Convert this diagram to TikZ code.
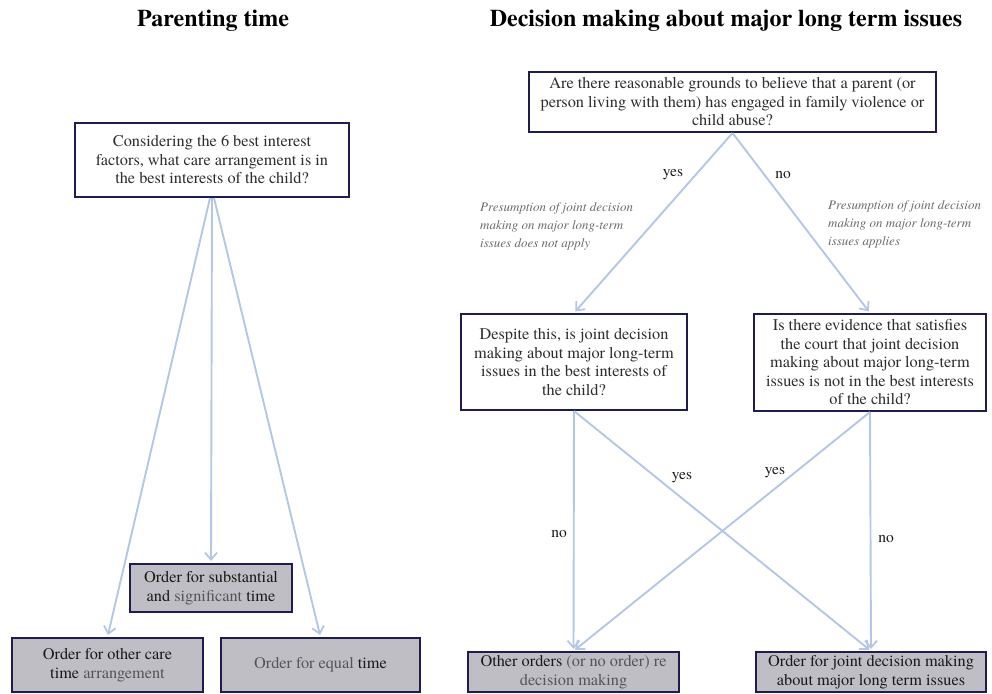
\documentclass[tikz,border=0pt]{standalone}
\usepackage{fontspec}
\setmainfont{TeX Gyre Termes}
\usetikzlibrary{arrows.meta}
\definecolor{navy}{RGB}{30,28,80}
\definecolor{boxgray}{RGB}{190,190,196}
\definecolor{flowblue}{RGB}{180,199,231}
\definecolor{txtgray}{RGB}{45,45,45}
\definecolor{lightgray}{RGB}{85,85,85}
\definecolor{notegray}{RGB}{105,105,105}
\tikzset{
  qbox/.style={draw=navy, line width=2pt, fill=white, align=center, inner sep=2pt,
    text=txtgray, font=\fontsize{16.3}{18.5}\selectfont},
  obox/.style={qbox, fill=boxgray, text=black!90},
  flow/.style={draw=flowblue, line width=1.9pt, -{Straight Barb[length=7pt,width=12pt,line width=1.8pt]}, shorten >=2pt},
  lbl/.style={font=\fontsize{15.5}{18}\selectfont, text=black!90, inner sep=0pt},
  note/.style={font=\fontsize{13}{18}\selectfont\itshape, text=notegray, align=left, inner sep=0pt},
  ttl/.style={font=\fontsize{24}{28}\selectfont\bfseries, inner sep=0pt}
}
\begin{document}
\begin{tikzpicture}[x=1pt,y=-1pt]
\useasboundingbox (0,0) rectangle (992,693);
% titles
\node[ttl] (t1) at (213,21) {Parenting time};
\node[ttl] (t2) at (726,21) {Decision making about major long term issues};
% left side
\node[qbox, minimum width=274pt, minimum height=74pt] (care) at (212,160)
  {Considering the 6 best interest\\factors, what care arrangement is in\\the best interests of the child?};
\node[obox, minimum width=162pt, minimum height=48pt] (sub) at (211,588)
  {Order for substantial\\and {\color{lightgray}significant} time};
\node[obox, minimum width=191pt, minimum height=54pt] (oth) at (107.5,665)
  {Order for other care\\time {\color{lightgray}arrangement}};
\node[obox, minimum width=199pt, minimum height=54pt] (eq) at (320.5,665)
  {{\color{lightgray}Order for equal} time};
\draw[flow] ([xshift=-2pt]care.south) -- (oth.north);
\draw[flow] (care.south) -- (sub.north);
\draw[flow] ([xshift=2pt]care.south) -- (eq.north);
% right side
\node[qbox, minimum width=407pt, minimum height=60pt] (vio) at (732.5,102)
  {Are there reasonable grounds to believe that a parent (or\\person living with them) has engaged in family violence or\\child abuse?};
\node[qbox, minimum width=226pt, minimum height=96pt] (desp) at (574,362)
  {Despite this, is joint decision\\making about major long-term\\issues in the best interests of\\the child?};
\node[qbox, minimum width=232pt, minimum height=97pt] (evid) at (870,362.5)
  {Is there evidence that satisfies\\the court that joint decision\\making about major long-term\\issues is not in the best interests\\of the child?};
\node[obox, minimum width=211pt, minimum height=40pt] (othord) at (573.5,672)
  {Other orders {\color{lightgray}(or no order) re}\\{\color{lightgray}decision making}};
\node[obox, minimum width=230pt, minimum height=40pt] (joint) at (871,672)
  {Order for joint decision making\\about major long term issues};
\draw[flow] (vio.south) -- (desp.north);
\draw[flow] (vio.south) -- (evid.north);
\draw[flow] (desp.south) -- (othord.north);
\draw[flow] (desp.south) -- (joint.north);
\draw[flow] (evid.south) -- (joint.north);
\draw[flow] (evid.south) -- (othord.north);
% labels
\node[lbl] (y1) at (673,175) {yes};
\node[lbl] (n1) at (783,175) {no};
\node[lbl] (n2) at (559,534) {no};
\node[lbl] (y2) at (682,478) {yes};
\node[lbl] (y3) at (775,473) {yes};
\node[lbl] (n3) at (886,539) {no};
\node[note, anchor=west] (nl) at (480,226)
  {Presumption of joint decision\\making on major long-term\\issues does not apply};
\node[note, anchor=west] (nr) at (828,224)
  {Presumption of joint decision\\making on major long-term\\issues applies};
\end{tikzpicture}
\end{document}
